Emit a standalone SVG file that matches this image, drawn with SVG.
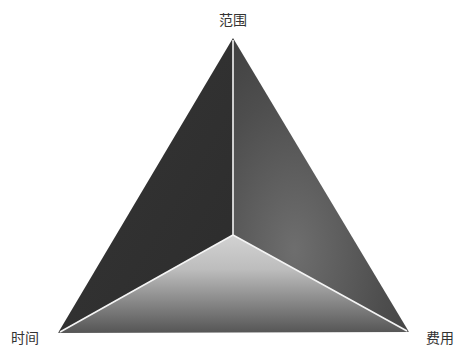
<svg xmlns="http://www.w3.org/2000/svg" width="457" height="348" viewBox="0 0 457 348">
<style>
.lbl{font-family:"Noto Sans CJK SC","Noto Sans",sans-serif;font-size:14px;fill:#333}
.edge{stroke:#f4f4f4;stroke-width:1.6;fill:none}
</style>
<defs>
<linearGradient id="gLeft" x1="0" y1="0" x2="1" y2="1">
<stop offset="0" stop-color="#363636"/>
<stop offset="1" stop-color="#2c2c2c"/>
</linearGradient>
<radialGradient id="gRight" cx="0.35" cy="0.72" r="0.95">
<stop offset="0" stop-color="#6e6e6e"/>
<stop offset="0.55" stop-color="#4e4e4e"/>
<stop offset="1" stop-color="#3a3a3a"/>
</radialGradient>
<linearGradient id="gBottom" x1="0" y1="0" x2="0" y2="1">
<stop offset="0" stop-color="#d2d2d2"/>
<stop offset="0.35" stop-color="#bdbdbd"/>
<stop offset="1" stop-color="#555"/>
</linearGradient>
</defs>
<rect width="457" height="348" fill="#fff"/>
<g id="faces">
<polygon points="233,38 58,333 233,235" fill="url(#gLeft)"/>
<polygon points="233,38 409,332 233,235" fill="url(#gRight)"/>
<polygon points="58,333 233,235 409,332" fill="url(#gBottom)"/>
</g>
<g id="connectors">
<line class="edge" x1="233" y1="40" x2="233" y2="235"/>
<line class="edge" x1="60" y1="332" x2="233" y2="235"/>
<line class="edge" x1="407" y1="331" x2="233" y2="235"/>
</g>
<g id="scope"><text class="lbl" x="233" y="25" text-anchor="middle">范围</text></g>
<g id="time"><text class="lbl" x="25" y="343" text-anchor="middle">时间</text></g>
<g id="cost"><text class="lbl" x="440" y="343" text-anchor="middle">费用</text></g>
</svg>
